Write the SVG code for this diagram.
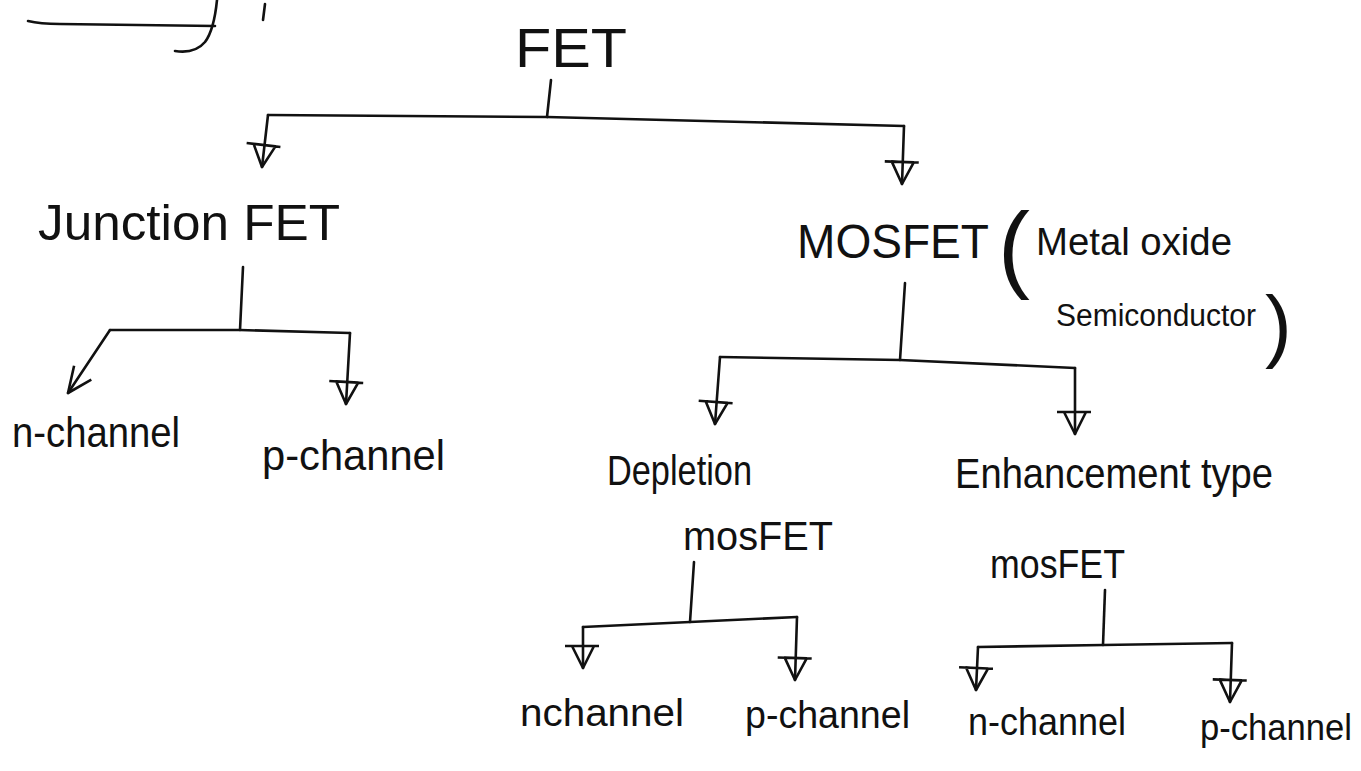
<svg xmlns="http://www.w3.org/2000/svg" width="1361" height="771" viewBox="0 0 1361 771">
<style>
.ln{fill:none;stroke:#111;stroke-width:2.6;stroke-linecap:round;stroke-linejoin:round}
.t{font-family:"Liberation Sans","DejaVu Sans",sans-serif;fill:#111}
</style>
<defs>
<marker id="tri" markerUnits="userSpaceOnUse" orient="auto" refX="0" refY="0" markerWidth="1" markerHeight="1" style="overflow:visible">
<path d="M0,0 L-22,-11 L-22,11 Z M-22,-16 L-22,18" fill="none" stroke="#111" stroke-width="2.6" stroke-linejoin="round"/>
</marker>
<marker id="vee" markerUnits="userSpaceOnUse" orient="auto" refX="0" refY="0" markerWidth="1" markerHeight="1" style="overflow:visible">
<path d="M-24,-12 L0,0 L-26,10" fill="none" stroke="#111" stroke-width="2.6" stroke-linejoin="round"/>
</marker>
</defs>
<rect width="1361" height="771" fill="#fff"/>
<g id="fragment">
<path class="ln" d="M28,21 Q40,24 60,24 L215,26"/>
<path class="ln" d="M217,0 Q214,30 205,42 Q195,54 175,51"/>
<path class="ln" d="M265,4 L263,20"/>
</g>
<g id="connectors">
<path class="ln" d="M551,80 L547,117"/>
<path class="ln" d="M268,115 L547,117 L904,126"/>
<path class="ln" d="M268,115 L262,167" marker-end="url(#tri)"/>
<path class="ln" d="M904,126 L902,184" marker-end="url(#tri)"/>
<path class="ln" d="M243,267 L240,330"/>
<path class="ln" d="M110,330 L240,330 L350,333"/>
<path class="ln" d="M110,330 L68,393" marker-end="url(#vee)"/>
<path class="ln" d="M350,333 L346,404" marker-end="url(#tri)"/>
<path class="ln" d="M905,283 L900,360"/>
<path class="ln" d="M720,357 L900,360 L1075,368"/>
<path class="ln" d="M720,357 L715,424" marker-end="url(#tri)"/>
<path class="ln" d="M1075,368 L1075,434" marker-end="url(#tri)"/>
<path class="ln" d="M694,562 L690,622"/>
<path class="ln" d="M583,627 L690,622 L797,617"/>
<path class="ln" d="M583,627 L583,668" marker-end="url(#tri)"/>
<path class="ln" d="M797,617 L795,680" marker-end="url(#tri)"/>
<path class="ln" d="M1105,590 L1103,645"/>
<path class="ln" d="M978,647 L1103,645 L1232,643"/>
<path class="ln" d="M978,647 L976,690" marker-end="url(#tri)"/>
<path class="ln" d="M1232,643 L1230,702" marker-end="url(#tri)"/>
</g>
<g id="n-fet"><text class="t" x="515" y="67" font-size="56" textLength="112" lengthAdjust="spacingAndGlyphs">FET</text></g>
<g id="n-jfet"><text class="t" x="38" y="240" font-size="50" textLength="302" lengthAdjust="spacingAndGlyphs">Junction FET</text></g>
<g id="n-jfet-n"><text class="t" x="12" y="447" font-size="42" textLength="168" lengthAdjust="spacingAndGlyphs">n-channel</text></g>
<g id="n-jfet-p"><text class="t" x="262" y="470" font-size="42" textLength="183" lengthAdjust="spacingAndGlyphs">p-channel</text></g>
<g id="n-mosfet">
<text class="t" x="797" y="258" font-size="48" textLength="192" lengthAdjust="spacingAndGlyphs">MOSFET</text>
<text class="t" x="998" y="280" font-size="96">(</text>
<text class="t" x="1036" y="255" font-size="38" textLength="196" lengthAdjust="spacingAndGlyphs">Metal oxide</text>
<text class="t" x="1056" y="326" font-size="31" textLength="200" lengthAdjust="spacingAndGlyphs">Semiconductor</text>
<text class="t" x="1265" y="352" font-size="80">)</text>
</g>
<g id="n-depletion">
<text class="t" x="607" y="485" font-size="42" textLength="145" lengthAdjust="spacingAndGlyphs">Depletion</text>
<text class="t" x="683" y="550" font-size="40" textLength="150" lengthAdjust="spacingAndGlyphs">mosFET</text>
</g>
<g id="n-enhancement">
<text class="t" x="955" y="488" font-size="42" textLength="318" lengthAdjust="spacingAndGlyphs">Enhancement type</text>
<text class="t" x="990" y="578" font-size="40" textLength="135" lengthAdjust="spacingAndGlyphs">mosFET</text>
</g>
<g id="n-dep-n"><text class="t" x="520" y="726" font-size="38" textLength="164" lengthAdjust="spacingAndGlyphs">nchannel</text></g>
<g id="n-dep-p"><text class="t" x="745" y="728" font-size="38" textLength="165" lengthAdjust="spacingAndGlyphs">p-channel</text></g>
<g id="n-enh-n"><text class="t" x="968" y="735" font-size="38" textLength="158" lengthAdjust="spacingAndGlyphs">n-channel</text></g>
<g id="n-enh-p"><text class="t" x="1200" y="740" font-size="36" textLength="152" lengthAdjust="spacingAndGlyphs">p-channel</text></g>
</svg>
